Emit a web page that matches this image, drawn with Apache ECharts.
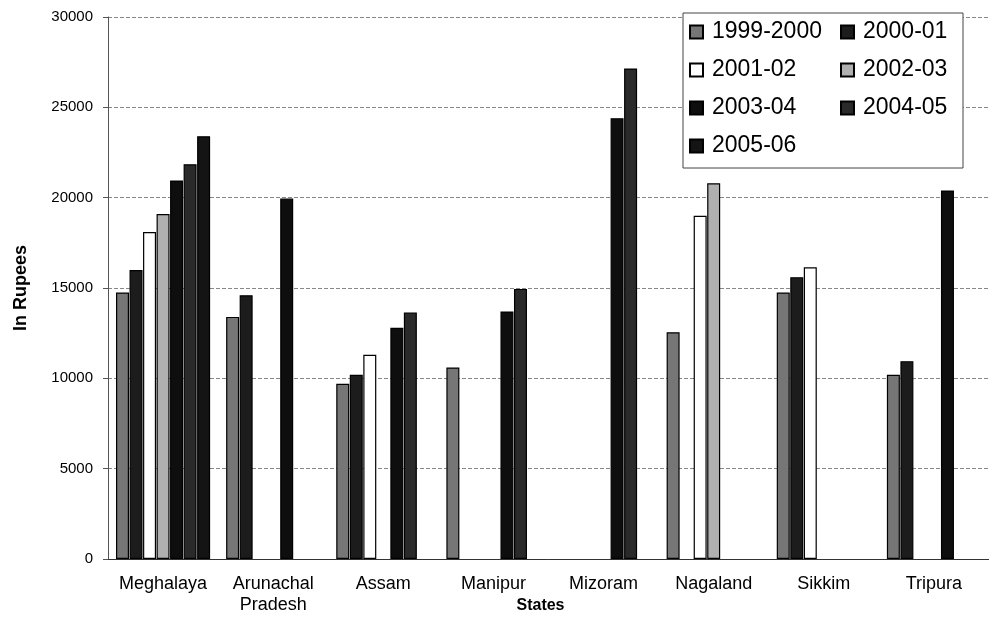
<!DOCTYPE html>
<html>
<head>
<meta charset="utf-8">
<script src="https://cdn.jsdelivr.net/npm/echarts@6/dist/echarts.min.js"></script>
<style>html,body{margin:0;padding:0;background:#fff;}#c{width:989px;height:621px;}</style>
</head>
<body>
<div id="c"></div>
<script>
var states = ['Meghalaya', 'Arunachal\nPradesh', 'Assam', 'Manipur', 'Mizoram', 'Nagaland', 'Sikkim', 'Tripura'];
var years = ['1999-2000', '2000-01', '2001-02', '2002-03', '2003-04', '2004-05', '2005-06'];
var v1999_2000 = [14750, 13400, 9700, 10600, '-', 12550, 14750, 10200];
var v2000_01   = [16000, 14600, 10200, '-', '-', '-', 15600, 10950];
var v2001_02   = [18100, '-', 11300, '-', '-', 19000, 16150, '-'];
var v2002_03   = [19100, '-', '-', '-', '-', 20800, '-', '-'];
var v2003_04   = [20950, 19950, 12800, 13700, 24400, '-', '-', 20400];
var v2004_05   = [21850, '-', 13650, 14950, 27150, '-', '-', '-'];
var v2005_06   = [23400, '-', '-', '-', '-', '-', '-', '-'];
var yTicks = [0, 5000, 10000, 15000, 20000, 25000, 30000];

var seriesValues = [v1999_2000, v2000_01, v2001_02, v2002_03, v2003_04, v2004_05, v2005_06];
var colors = ['#767676', '#1c1c1c', '#ffffff', '#b0b0b0', '#0e0e0e', '#2a2a2a', '#141414'];
var FONT = 'Liberation Sans, Arial, sans-serif';

var chart = echarts.init(document.getElementById('c'));
var series = years.map(function (y, i) {
  return {
    name: y,
    type: 'bar',
    data: seriesValues[i],
    barWidth: 13,
    barGap: '4%',
    itemStyle: { color: colors[i], borderColor: '#000', borderWidth: 1.2 }
  };
});

chart.setOption({
  animation: false,
  backgroundColor: '#fff',
  textStyle: { fontFamily: FONT },
  grid: { left: 108, right: 0, top: 17, bottom: 62, containLabel: false, outerBoundsMode: 'none' },
  legend: [
    {
      data: ['1999-2000', '2001-02', '2003-04', '2005-06'],
      orient: 'vertical', left: 689, top: 19, itemGap: 12, padding: 0,
      itemWidth: 13, itemHeight: 13, icon: 'rect', z: 5,
      textStyle: { fontSize: 23, fontFamily: FONT, color: '#000', lineHeight: 26, padding: [0, 0, 0, 4] }
    },
    {
      data: ['2000-01', '2002-03', '2004-05'],
      orient: 'vertical', left: 840, top: 19, itemGap: 12, padding: 0,
      itemWidth: 13, itemHeight: 13, icon: 'rect', z: 5,
      textStyle: { fontSize: 23, fontFamily: FONT, color: '#000', lineHeight: 26, padding: [0, 0, 0, 4] }
    }
  ],
  graphic: [
    { type: 'rect', z: 3, shape: { x: 683, y: 13, width: 280, height: 155 },
      style: { fill: '#fff', stroke: '#444', lineWidth: 1 } }
  ],
  xAxis: {
    type: 'category',
    data: states,
    name: 'States',
    nameLocation: 'middle',
    nameGap: 39,
    nameMoveOverlap: false,
    nameTextStyle: { fontSize: 16, fontWeight: 'bold', color: '#000', fontFamily: FONT, padding: [0, 16, 0, 0] },
    axisLine: { show: true, lineStyle: { color: '#333', width: 1 } },
    axisTick: { show: false },
    axisLabel: { fontSize: 18, color: '#000', margin: 15, lineHeight: 21, fontFamily: FONT, interval: 0 }
  },
  yAxis: {
    type: 'value',
    min: 0, max: 30000, interval: 5000,
    name: 'In Rupees',
    nameLocation: 'middle',
    nameGap: 78,
    nameMoveOverlap: false,
    nameTextStyle: { fontSize: 18, fontWeight: 'bold', color: '#000', fontFamily: FONT },
    axisLine: { show: true, lineStyle: { color: '#555', width: 1 } },
    axisTick: { show: true, length: 5, lineStyle: { color: '#555' } },
    axisLabel: { fontSize: 15, color: '#000', margin: 15, fontFamily: FONT,
      customValues: yTicks, formatter: function (v) { return String(v); } },
    splitLine: { show: true, lineStyle: { color: '#888', width: 1, type: [4, 2] } }
  },
  series: series
});
</script>
</body>
</html>
